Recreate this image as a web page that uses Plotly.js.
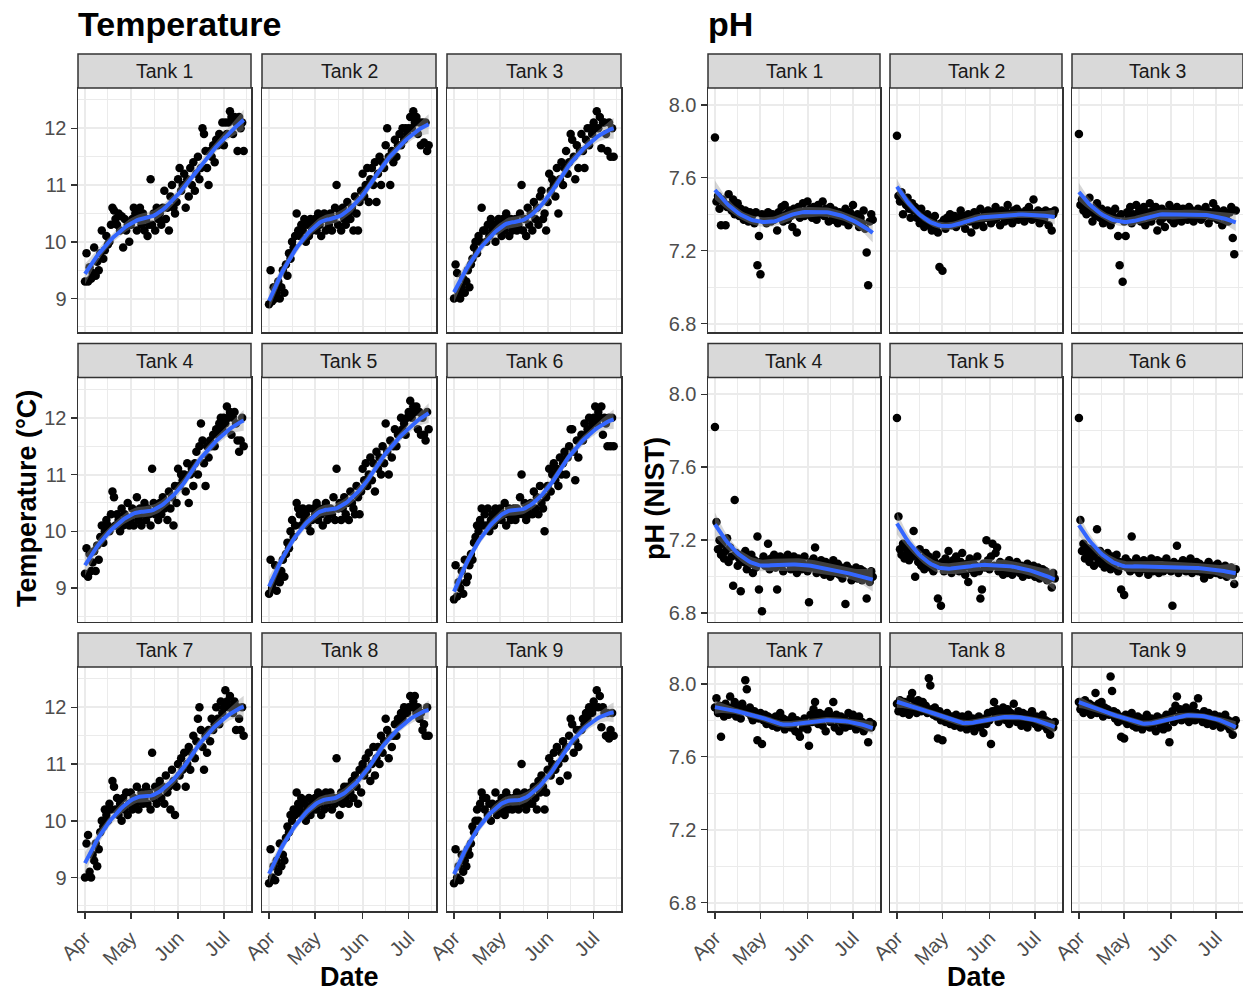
<!DOCTYPE html>
<html><head><meta charset="utf-8">
<script src="https://cdn.plot.ly/plotly-3.0.1.min.js"></script>
<style>html,body{margin:0;padding:0;background:#fff;}#chart{width:1243px;height:992px;}</style>
</head><body><div id="chart"></div>
<script>
// ---------------- DATA ----------------
const dates = [
'2021-04-01','2021-04-02','2021-04-03','2021-04-04','2021-04-05','2021-04-06','2021-04-07','2021-04-08','2021-04-09','2021-04-10',
'2021-04-11','2021-04-12','2021-04-13','2021-04-14','2021-04-15','2021-04-16','2021-04-17','2021-04-18','2021-04-19','2021-04-20',
'2021-04-21','2021-04-22','2021-04-23','2021-04-24','2021-04-25','2021-04-26','2021-04-27','2021-04-28','2021-04-29','2021-04-30',
'2021-05-01','2021-05-02','2021-05-03','2021-05-04','2021-05-05','2021-05-06','2021-05-07','2021-05-08','2021-05-09','2021-05-10',
'2021-05-11','2021-05-12','2021-05-13','2021-05-14','2021-05-15','2021-05-16','2021-05-17','2021-05-18','2021-05-19','2021-05-20',
'2021-05-21','2021-05-22','2021-05-23','2021-05-24','2021-05-25','2021-05-26','2021-05-27','2021-05-28','2021-05-29','2021-05-30','2021-05-31',
'2021-06-01','2021-06-02','2021-06-03','2021-06-04','2021-06-05','2021-06-06','2021-06-07','2021-06-08','2021-06-09','2021-06-10',
'2021-06-11','2021-06-12','2021-06-13','2021-06-14','2021-06-15','2021-06-16','2021-06-17','2021-06-18','2021-06-19','2021-06-20',
'2021-06-21','2021-06-22','2021-06-23','2021-06-24','2021-06-25','2021-06-26','2021-06-27','2021-06-28','2021-06-29','2021-06-30',
'2021-07-01','2021-07-02','2021-07-03','2021-07-04','2021-07-05','2021-07-06','2021-07-07','2021-07-08','2021-07-09','2021-07-10',
'2021-07-11','2021-07-12','2021-07-13','2021-07-14'];

const tankNames = ['Tank 1','Tank 2','Tank 3','Tank 4','Tank 5','Tank 6','Tank 7','Tank 8','Tank 9'];

const tempTank1 = [9.30,9.80,9.30,9.55,9.35,9.45,9.90,9.40,9.65,9.50, 9.80,10.20,9.70,9.85,10.10,9.95,10.00,10.30,10.60,10.55,
10.40,10.30,10.50,10.20,10.45,9.90,10.40,10.20,10.30,10.00, 10.30,10.40,10.60,10.50,10.20,10.40,10.60,10.30,10.50,10.20,
10.40,10.10,10.30,11.10,10.30,10.50,10.20,10.60,10.40,10.50, 10.30,10.60,10.90,10.40,10.60,10.20,10.80,11.00,10.60,10.50,10.70,
11.10,11.30,10.90,11.00,11.20,10.60,11.10,10.80,11.30,11.00, 11.40,10.90,11.20,11.50,11.10,11.30,12.00,11.90,11.60,11.30,
11.00,11.60,11.50,11.70,11.40,11.80,11.70,11.90,11.80,12.10, 11.70,12.10,11.90,12.10,12.30,12.20,11.90,12.20,12.10,11.60, 12.20,12.00,12.10,11.60];
const tempTank2 = [8.90,9.50,8.95,9.20,9.00,9.10,9.30,9.00,9.20,9.50, 9.10,9.60,9.40,9.80,9.70,10.00,9.90,10.10,10.50,10.20,
10.10,10.30,10.20,10.40,10.00,10.30,10.10,10.40,10.20,10.30, 10.40,10.20,10.50,10.30,10.10,10.40,10.50,10.20,10.40,10.30,
10.50,10.20,10.40,10.60,11.00,10.30,10.50,10.20,10.60,10.40, 10.30,10.70,10.50,10.40,10.60,10.20,10.80,10.50,10.20,10.70,10.90,
11.20,10.80,11.00,11.30,10.70,11.10,11.30,11.00,11.40,10.70, 11.20,11.50,11.00,11.40,11.30,11.70,12.00,11.50,11.00,11.60,
11.40,11.80,11.50,11.70,11.90,11.70,12.00,11.80,12.00,11.90, 12.00,12.20,12.00,12.30,12.10,12.20,11.90,12.10,11.70,12.10, 11.75,12.10,11.60,11.70];
const tempTank3 = [9.00,9.60,9.45,9.10,9.00,9.20,9.35,9.10,9.30,9.50, 9.20,9.60,9.70,9.90,10.00,9.80,10.10,10.00,10.60,10.20,
10.20,10.00,10.30,10.10,10.40,10.20,10.30,10.00,10.20,10.40, 10.30,10.10,10.40,10.20,10.50,10.30,10.10,10.40,10.20,10.30,
10.40,10.20,10.30,10.50,11.00,10.20,10.40,10.10,10.60,10.30, 10.50,10.20,10.70,10.40,10.60,10.30,10.80,10.90,10.40,10.50,10.20,
10.70,11.20,10.90,11.10,11.00,10.80,11.30,10.50,11.10,11.40, 11.00,11.30,11.60,11.20,11.40,11.90,11.80,11.50,11.10,11.70,
11.30,11.60,11.90,11.60,11.30,11.80,12.00,11.70,12.00,11.90, 12.10,12.00,12.30,12.00,12.20,11.65,12.10,12.10,11.90,11.60, 12.10,11.50,12.00,11.50];
const tempTank4 = [9.25,9.70,9.20,9.60,9.30,9.45,9.65,9.30,9.75,9.50, 9.90,10.10,9.80,10.00,10.20,10.10,10.00,10.30,10.70,10.60,
10.10,10.30,10.20,10.00,10.40,10.10,10.30,10.20,10.50,10.10, 10.20,10.40,10.10,10.30,10.60,10.20,10.40,10.10,10.30,10.50,
10.20,10.40,10.30,10.10,11.10,10.50,10.30,10.40,10.20,10.50, 10.30,10.60,10.40,10.50,10.20,10.70,10.40,10.60,10.10,10.80,10.50,
11.10,10.80,11.00,10.90,11.00,10.70,11.20,10.50,11.00,11.10, 10.80,11.20,11.40,11.00,11.50,11.90,11.60,11.20,10.80,11.50,
11.30,11.60,11.50,11.70,11.50,11.80,11.70,11.90,12.00,11.80, 12.00,11.90,12.20,12.00,12.10,11.70,12.00,12.10,11.90,11.60, 11.40,11.60,12.00,11.50];
const tempTank5 = [8.90,9.50,9.00,9.10,9.40,8.95,9.20,9.10,9.30,9.50, 9.20,9.60,9.80,9.70,10.00,10.20,9.90,10.10,10.50,10.40,
10.30,10.10,10.40,10.20,10.30,10.10,10.40,10.00,10.20,10.40, 10.30,10.50,10.20,10.40,10.30,10.10,10.40,10.50,10.20,10.30,
10.40,10.30,10.60,10.20,11.10,10.40,10.50,10.20,10.40,10.60, 10.30,10.50,10.20,10.70,10.50,10.40,10.30,10.80,10.60,10.30,10.70,
11.10,10.90,11.20,10.80,11.00,11.30,10.90,11.20,10.70,11.40, 11.10,11.30,11.00,11.50,11.20,11.90,11.40,11.00,11.60,11.30,
11.50,11.80,11.50,11.70,11.70,12.00,11.80,11.90,11.70,12.00, 12.10,12.30,12.00,12.20,12.10,12.20,11.80,12.10,11.70,12.00, 11.70,11.60,12.10,11.80];
const tempTank6 = [8.80,9.40,8.85,9.10,9.00,9.30,8.90,9.50,9.10,9.20, 9.40,9.60,9.50,9.80,9.90,10.10,10.00,10.20,10.40,10.10,
10.30,10.10,10.40,10.00,10.20,10.30,10.10,10.40,10.20,10.30, 10.40,10.20,10.30,10.50,10.10,10.30,10.40,10.20,10.30,10.40,
10.20,10.40,10.30,10.60,11.00,10.30,10.50,10.20,10.40,10.30, 10.50,10.30,10.70,10.40,10.60,10.30,10.80,10.50,10.40,10.00,10.60,
10.80,11.10,10.70,11.00,11.20,10.90,11.10,10.80,11.30,11.00, 11.20,11.40,11.00,11.30,11.50,11.80,11.80,11.40,10.90,11.60,
11.30,11.60,11.70,11.60,11.90,11.70,11.80,12.00,11.80,11.90, 12.00,12.20,11.90,12.10,12.00,12.20,11.70,12.00,11.90,11.50, 12.00,11.50,12.00,11.50];
const tempTank7 = [9.00,9.60,9.75,9.10,9.00,9.40,9.30,9.60,9.20,9.50, 9.80,10.00,9.90,10.20,10.10,10.00,10.30,10.20,10.70,10.60,
10.20,10.40,10.10,10.30,10.00,10.40,10.20,10.50,10.10,10.30, 10.50,10.20,10.40,10.30,10.60,10.20,10.40,10.50,10.30,10.40,
10.60,10.30,10.50,10.20,11.20,10.40,10.60,10.30,10.50,10.70, 10.40,10.60,10.30,10.80,10.50,10.60,10.20,10.90,10.70,10.10,10.60,
11.00,10.80,11.10,10.90,11.20,10.60,11.00,11.30,10.90,11.20, 11.50,11.10,11.40,11.80,12.00,11.60,11.30,10.90,11.50,11.20,
11.60,11.40,11.80,11.60,11.70,12.00,11.80,11.70,12.10,11.90, 12.00,12.30,12.10,12.00,12.20,12.00,11.90,12.10,11.60,12.00, 11.80,11.60,12.00,11.50];
const tempTank8 = [8.90,9.50,9.00,9.20,8.95,9.30,9.10,9.60,9.20,9.40, 9.30,9.70,9.90,9.80,10.10,10.00,10.20,10.10,10.50,10.30,
10.20,10.40,10.10,10.30,10.00,10.20,10.40,10.10,10.30,10.20, 10.40,10.20,10.50,10.30,10.10,10.40,10.20,10.50,10.30,10.40,
10.50,10.20,10.40,10.30,11.10,10.40,10.10,10.50,10.30,10.60, 10.40,10.60,10.30,10.50,10.70,10.40,10.80,10.60,10.30,10.90,10.50,
11.00,10.80,11.10,10.90,11.20,10.70,11.00,11.30,10.80,11.10, 11.30,11.00,11.50,11.20,11.40,11.80,11.60,11.10,11.50,11.30,
11.50,11.70,11.50,11.80,11.70,11.90,11.80,12.00,11.90,11.90, 12.00,12.20,12.00,12.10,12.20,11.90,12.00,11.80,11.90,11.60, 11.70,11.50,12.00,11.50];
const tempTank9 = [8.90,9.50,9.00,9.20,8.95,9.40,9.10,9.30,9.20,9.50, 9.40,9.60,9.90,9.80,10.00,10.20,10.00,10.30,10.50,10.40,
10.20,10.40,10.10,10.30,10.00,10.30,10.20,10.50,10.10,10.30, 10.20,10.40,10.30,10.10,10.50,10.20,10.40,10.30,10.20,10.40,
10.30,10.50,10.20,10.40,11.00,10.30,10.50,10.20,10.40,10.30, 10.50,10.30,10.60,10.40,10.20,10.70,10.50,10.80,10.60,10.20,10.50,
10.90,11.10,10.80,11.00,11.20,10.90,11.30,11.00,10.70,11.20, 11.40,11.10,11.30,10.80,11.50,11.80,11.70,11.20,11.40,11.60,
11.30,11.60,11.60,11.80,11.70,11.90,11.80,12.00,11.90,11.90, 12.10,12.00,12.30,12.00,12.20,11.65,12.00,11.90,11.50,11.90, 11.45,11.60,11.90,11.50];

const phTank1 = [7.82,7.47,7.50,7.43,7.34,7.48,7.46,7.34,7.44,7.51, 7.45,7.42,7.48,7.40,7.44,7.46,7.39,7.43,7.40,7.37,
7.42,7.39,7.36,7.41,7.38,7.40,7.35,7.41,7.12,7.28, 7.07,7.40,7.37,7.39,7.35,7.41,7.38,7.36,7.40,7.37,
7.39,7.31,7.41,7.38,7.44,7.36,7.45,7.40,7.37,7.42, 7.39,7.33,7.43,7.40,7.30,7.44,7.38,7.41,7.46,7.39,7.42,
7.47,7.40,7.43,7.38,7.44,7.41,7.37,7.45,7.40,7.42, 7.47,7.39,7.43,7.41,7.36,7.44,7.40,7.37,7.42,7.39,
7.35,7.41,7.38,7.40,7.36,7.43,7.39,7.34,7.41,7.37, 7.45,7.38,7.36,7.40,7.33,7.38,7.35,7.42,7.32,7.19, 7.01,7.36,7.40,7.37];
const phTank2 = [7.83,7.50,7.47,7.52,7.40,7.48,7.45,7.49,7.43,7.38, 7.46,7.42,7.44,7.38,7.41,7.35,7.43,7.39,7.33,7.37,
7.40,7.34,7.38,7.31,7.36,7.39,7.33,7.30,7.11,7.35, 7.09,7.37,7.32,7.38,7.35,7.40,7.34,7.37,7.39,7.33,
7.36,7.38,7.42,7.35,7.39,7.32,7.37,7.40,7.36,7.30, 7.38,7.41,7.34,7.39,7.36,7.43,7.37,7.33,7.40,7.38,7.42,
7.39,7.35,7.41,7.37,7.44,7.38,7.40,7.34,7.42,7.39, 7.36,7.41,7.45,7.38,7.40,7.35,7.42,7.39,7.43,7.37,
7.41,7.38,7.40,7.36,7.42,7.39,7.44,7.41,7.37,7.48, 7.40,7.38,7.42,7.35,7.41,7.39,7.37,7.42,7.40,7.34, 7.41,7.31,7.40,7.42];
const phTank3 = [7.84,7.45,7.48,7.42,7.47,7.40,7.44,7.49,7.41,7.36, 7.43,7.39,7.46,7.41,7.38,7.43,7.35,7.40,7.37,7.42,
7.39,7.34,7.41,7.37,7.43,7.38,7.28,7.12,7.40,7.03, 7.36,7.28,7.41,7.38,7.44,7.35,7.40,7.37,7.45,7.39,
7.42,7.36,7.40,7.44,7.34,7.41,7.38,7.46,7.36,7.42, 7.39,7.44,7.31,7.40,7.36,7.43,7.38,7.33,7.41,7.39,7.45,
7.37,7.42,7.35,7.40,7.44,7.38,7.41,7.36,7.43,7.39, 7.41,7.37,7.44,7.39,7.42,7.36,7.40,7.38,7.43,7.41,
7.37,7.42,7.39,7.44,7.40,7.35,7.41,7.38,7.46,7.40, 7.43,7.37,7.41,7.39,7.34,7.42,7.38,7.40,7.36,7.41, 7.44,7.27,7.18,7.42];
const phTank4 = [7.82,7.30,7.15,7.20,7.12,7.18,7.10,7.14,7.21,7.08, 7.16,7.11,6.95,7.42,7.13,7.06,7.10,6.92,7.12,7.08,
7.14,7.04,7.10,7.07,7.12,7.02,7.09,7.05,7.22,6.93, 7.08,6.81,7.11,7.06,7.09,7.18,7.04,7.10,7.07,7.12,
7.05,6.93,7.09,7.11,7.06,7.03,7.10,7.08,7.12,7.07, 7.04,7.09,7.11,7.06,7.02,7.10,7.08,7.04,7.07,7.11,7.05,
7.03,6.86,7.08,7.05,7.10,7.16,7.02,7.07,7.04,7.09, 7.06,7.01,7.08,7.03,7.06,7.00,7.05,7.09,7.02,7.04,
7.07,7.01,7.05,6.99,7.03,6.85,7.06,7.02,7.04,6.98, 7.03,7.01,7.05,6.99,7.02,7.04,6.98,7.03,7.00,6.88, 7.01,6.97,7.03,7.00];
const phTank5 = [7.87,7.33,7.15,7.12,7.18,7.10,7.16,7.13,7.09,7.14, 7.11,7.25,7.00,7.12,7.08,7.15,7.06,7.10,7.04,7.13,
7.07,7.11,7.05,7.09,7.03,7.08,7.12,6.88,7.06,6.84, 7.08,7.03,7.10,7.05,7.14,7.07,7.02,7.09,7.04,7.11,
7.06,7.03,7.08,7.13,7.05,7.01,7.07,6.97,7.10,7.04, 7.08,7.02,7.06,7.11,7.03,6.88,6.93,7.07,7.05,7.20,7.09,
7.04,7.11,7.18,7.06,7.13,7.16,7.03,7.08,7.05,7.01, 7.07,7.04,7.02,7.09,7.05,7.01,7.06,7.03,7.08,7.04,
7.02,7.06,7.00,7.05,7.03,7.07,7.01,7.04,7.02,7.06, 7.00,7.03,7.05,6.99,7.02,7.04,7.00,7.03,6.98,7.01, 6.99,6.94,7.02,6.99];
const phTank6 = [7.87,7.31,7.14,7.18,7.10,7.16,7.12,7.08,7.15,7.11, 7.06,7.13,7.26,7.09,7.14,7.07,7.12,7.05,7.10,7.13,
7.08,7.04,7.11,7.06,7.09,7.12,7.03,7.08,6.93,7.06, 6.90,7.10,7.05,7.08,7.03,7.22,7.07,7.04,7.10,7.06,
7.02,7.08,7.05,7.09,7.04,7.07,7.01,7.06,7.10,7.03, 7.07,7.04,7.09,7.02,7.06,7.08,7.03,7.05,7.10,7.04,7.07,
7.03,6.84,7.08,7.05,7.17,7.02,7.07,7.04,7.09,7.06, 7.03,7.08,7.05,7.10,7.02,7.06,7.04,7.08,7.03,7.07,
7.05,7.02,6.99,7.06,7.03,7.08,7.01,7.05,7.03,7.06, 7.02,7.07,7.04,7.01,7.05,7.03,7.06,7.00,7.04,7.02, 7.05,7.01,6.96,7.04];
const phTank7 = [7.87,7.92,7.84,7.88,7.71,7.86,7.82,7.89,7.85,7.83, 7.93,7.87,7.84,7.90,7.82,7.88,7.85,7.81,7.89,7.86,
8.02,7.97,7.84,7.87,7.82,7.80,7.85,7.83,7.69,7.81, 7.84,7.67,7.80,7.83,7.78,7.82,7.79,7.81,7.77,7.80,
7.82,7.76,7.79,7.84,7.78,7.81,7.75,7.80,7.77,7.79, 7.76,7.82,7.78,7.74,7.80,7.73,7.71,7.79,7.76,7.81,7.78,
7.75,7.66,7.83,7.79,7.86,7.90,7.82,7.78,7.84,7.80, 7.77,7.83,7.74,7.81,7.85,7.79,7.82,7.90,7.76,7.83,
7.80,7.74,7.82,7.78,7.81,7.76,7.79,7.84,7.77,7.80, 7.83,7.78,7.75,7.80,7.82,7.77,7.79,7.74,7.78,7.76, 7.68,7.79,7.76,7.78];
const phTank8 = [7.89,7.85,7.91,7.87,7.84,7.90,7.86,7.88,7.83,7.92, 7.95,7.86,7.89,7.84,7.91,7.87,7.85,7.90,7.86,7.88,
7.84,8.03,7.99,7.86,7.83,7.87,7.82,7.70,7.85,7.80, 7.69,7.83,7.79,7.84,7.81,7.78,7.82,7.80,7.77,7.83,
7.79,7.81,7.76,7.82,7.78,7.80,7.75,7.83,7.79,7.77, 7.81,7.74,7.80,7.78,7.82,7.76,7.79,7.73,7.81,7.78,7.84,
7.80,7.67,7.85,7.90,7.82,7.86,7.79,7.84,7.81,7.87, 7.83,7.80,7.86,7.78,7.84,7.81,7.89,7.82,7.79,7.85,
7.81,7.77,7.84,7.80,7.83,7.76,7.82,7.79,7.85,7.80, 7.78,7.82,7.76,7.81,7.79,7.83,7.77,7.80,7.75,7.79, 7.72,7.78,7.76,7.79];
const phTank9 = [7.90,7.86,7.88,7.84,7.91,7.87,7.85,7.89,7.83,7.88, 7.86,7.95,7.84,7.89,7.85,7.90,7.82,7.87,7.84,7.86,
7.83,8.04,7.96,7.85,7.81,7.84,7.79,7.82,7.71,7.80, 7.70,7.83,7.78,7.81,7.79,7.84,7.77,7.80,7.76,7.82,
7.78,7.81,7.75,7.80,7.77,7.83,7.79,7.76,7.81,7.78, 7.80,7.74,7.82,7.79,7.77,7.81,7.75,7.79,7.83,7.76,7.68,
7.81,7.85,7.79,7.88,7.93,7.82,7.86,7.80,7.84,7.81, 7.87,7.83,7.79,7.85,7.82,7.88,7.80,7.84,7.92,7.81,
7.83,7.79,7.85,7.81,7.78,7.84,7.80,7.82,7.77,7.83, 7.80,7.78,7.82,7.76,7.81,7.79,7.83,7.77,7.80,7.75, 7.79,7.72,7.77,7.80];

const tempTickVals = [9, 10, 11, 12];
const tempTickText = ['9', '10', '11', '12'];
const phTickVals = [6.8, 7.2, 7.6, 8.0];
const phTickText = ['6.8', '7.2', '7.6', '8.0'];
const monthTickVals = ['2021-04-01', '2021-05-01', '2021-06-01', '2021-07-01'];
const monthTickText = ['Apr', 'May', 'Jun', 'Jul'];

const tempSeries = [tempTank1,tempTank2,tempTank3,tempTank4,tempTank5,tempTank6,tempTank7,tempTank8,tempTank9];
const phSeries = [phTank1,phTank2,phTank3,phTank4,phTank5,phTank6,phTank7,phTank8,phTank9];

// ---------------- LOESS (as geom_smooth: degree 2, span 0.75) ----------------
function solve3(A, b) {
  const M = A.map((row, i) => [...row, b[i]]);
  for (let c = 0; c < 3; c++) {
    let p = c;
    for (let r = c + 1; r < 3; r++) if (Math.abs(M[r][c]) > Math.abs(M[p][c])) p = r;
    [M[c], M[p]] = [M[p], M[c]];
    for (let r = 0; r < 3; r++) {
      if (r === c) continue;
      const f = M[r][c] / M[c][c];
      for (let k = c; k < 4; k++) M[r][k] -= f * M[c][k];
    }
  }
  return [M[0][3] / M[0][0], M[1][3] / M[1][1], M[2][3] / M[2][2]];
}
function loessSmooth(xs, ys, span, nGrid) {
  const n = xs.length, q = Math.floor(span * n);
  function lvec(x0) {
    const d = xs.map(x => Math.abs(x - x0));
    const h = d.slice().sort((a, b) => a - b)[q - 1] || 1;
    const w = d.map(v => v < h ? Math.pow(1 - Math.pow(v / h, 3), 3) : 0);
    const us = xs.map(x => (x - x0) / h);
    const S = [[0,0,0],[0,0,0],[0,0,0]];
    for (let i = 0; i < n; i++) {
      if (!w[i]) continue;
      const v = [1, us[i], us[i] * us[i]];
      for (let a = 0; a < 3; a++) for (let b = 0; b < 3; b++) S[a][b] += w[i] * v[a] * v[b];
    }
    const r = solve3(S, [1, 0, 0]);
    return us.map((u, i) => w[i] * (r[0] + r[1] * u + r[2] * u * u));
  }
  const L = xs.map(x => lvec(x));
  let rss = 0, d1 = 0;
  L.forEach((l, i) => {
    const f = l.reduce((s, li, j) => s + li * ys[j], 0);
    rss += (ys[i] - f) ** 2;
    l.forEach((lij, j) => { const v = (i === j ? 1 : 0) - lij; d1 += v * v; });
  });
  const s = Math.sqrt(rss / d1);
  const xmin = Math.min(...xs), xmax = Math.max(...xs);
  const gx = [], fit = [], lo = [], hi = [];
  for (let k = 0; k < nGrid; k++) {
    const x0 = xmin + (xmax - xmin) * k / (nGrid - 1);
    const l = lvec(x0);
    const f = l.reduce((a, li, j) => a + li * ys[j], 0);
    const se = s * Math.sqrt(l.reduce((a, li) => a + li * li, 0));
    gx.push(x0); fit.push(f); lo.push(f - 1.985 * se); hi.push(f + 1.985 * se);
  }
  return { gx, fit, lo, hi };
}

// ---------------- LAYOUT ----------------
const W = 1243, H = 992;
const FONT = 'Liberation Sans, Arial, sans-serif';
const TICKSIZE = 20;
const groups = [
  { series: tempSeries, cols: [[78, 251], [262, 436], [447, 621]], range: [8.41, 12.71],
    tv: tempTickVals, tt: tempTickText, minor: [8.5, 9.5, 10.5, 11.5, 12.5] },
  { series: phSeries, cols: [[708, 880], [890, 1062], [1072, 1243]], range: [6.754, 8.092],
    tv: phTickVals, tt: phTickText, minor: [7.0, 7.4, 7.8] }
];
const rowsPx = [[88, 332], [377.5, 621.5], [667, 911]];
const stripPx = [[54, 88], [343.5, 377.5], [633, 667]];
const xRange = ['2021-03-27 10:00', '2021-07-18 19:00'];
const xMinor = ['2021-04-16', '2021-05-16 12:00', '2021-06-16', '2021-07-16'];

const dayMs = 86400000;
const xNum = dates.map(d => Date.parse(d + 'T00:00:00Z') / dayMs);
function toDateStr(dn) { return new Date(dn * dayMs).toISOString().slice(0, 19).replace('T', ' '); }

const traces = [], shapes = [], annotations = [];
const layout = {
  width: W, height: H, margin: { l: 0, r: 0, t: 0, b: 0 },
  paper_bgcolor: '#ffffff', plot_bgcolor: '#ffffff',
  showlegend: false, hovermode: false,
  font: { family: FONT, size: TICKSIZE, color: '#4D4D4D' }
};

groups.forEach((g, gi) => {
  for (let r = 0; r < 3; r++) for (let c = 0; c < 3; c++) {
    const t = r * 3 + c;
    const k = gi * 9 + t + 1;
    const xk = k === 1 ? 'xaxis' : 'xaxis' + k, yk = k === 1 ? 'yaxis' : 'yaxis' + k;
    const xr = k === 1 ? 'x' : 'x' + k, yr = k === 1 ? 'y' : 'y' + k;
    const [px0, px1] = g.cols[c];
    const [py0, py1] = rowsPx[r];
    layout[xk] = {
      domain: [px0 / W, px1 / W], anchor: yr, type: 'date', range: xRange,
      tickmode: 'array', tickvals: monthTickVals, ticktext: monthTickText,
      showticklabels: r === 2, ticks: r === 2 ? 'outside' : '', ticklen: 6, tickwidth: 1.5, tickcolor: '#333333',
      tickangle: -45, tickfont: { family: FONT, size: TICKSIZE, color: '#4D4D4D' },
      showgrid: true, gridcolor: '#EBEBEB', gridwidth: 2,
      minor: { tickvals: xMinor, showgrid: true, gridcolor: '#EBEBEB', gridwidth: 1, ticks: '' },
      showline: true, mirror: true, linecolor: '#333333', linewidth: 1.5, zeroline: false, fixedrange: true
    };
    layout[yk] = {
      domain: [1 - py1 / H, 1 - py0 / H], anchor: xr, range: g.range,
      tickmode: 'array', tickvals: g.tv, ticktext: g.tt,
      showticklabels: c === 0, ticks: c === 0 ? 'outside' : '', ticklen: 6, tickwidth: 1.5, tickcolor: '#333333',
      tickfont: { family: FONT, size: TICKSIZE, color: '#4D4D4D' },
      showgrid: true, gridcolor: '#EBEBEB', gridwidth: 2,
      minor: { tickvals: g.minor, showgrid: true, gridcolor: '#EBEBEB', gridwidth: 1, ticks: '' },
      showline: true, mirror: true, linecolor: '#333333', linewidth: 1.5, zeroline: false, fixedrange: true
    };
    const ys = g.series[t];
    traces.push({ type: 'scatter', mode: 'markers', x: dates, y: ys, xaxis: xr, yaxis: yr,
      marker: { color: '#000000', size: 8.5, line: { width: 0 } } });
    const sm = loessSmooth(xNum, ys, 0.75, 80);
    const gxs = sm.gx.map(toDateStr);
    traces.push({ type: 'scatter', mode: 'lines', x: gxs.concat(gxs.slice().reverse()),
      y: sm.hi.concat(sm.lo.slice().reverse()), xaxis: xr, yaxis: yr,
      fill: 'toself', fillcolor: 'rgba(153,153,153,0.4)', line: { width: 0 } });
    traces.push({ type: 'scatter', mode: 'lines', x: gxs, y: sm.fit, xaxis: xr, yaxis: yr,
      line: { color: '#3366FF', width: 4 } });
    // strip
    const [sy0, sy1] = stripPx[r];
    shapes.push({ type: 'rect', xref: 'paper', yref: 'paper', x0: px0 / W, x1: px1 / W,
      y0: 1 - sy1 / H, y1: 1 - sy0 / H, fillcolor: '#D9D9D9', line: { color: '#333333', width: 1.5 } });
    annotations.push({ xref: 'paper', yref: 'paper', x: (px0 + px1) / 2 / W, y: 1 - (sy0 + sy1) / 2 / H,
      text: tankNames[t], showarrow: false, xanchor: 'center', yanchor: 'middle',
      font: { family: FONT, size: 19.5, color: '#1A1A1A' } });
  }
});

annotations.push({ xref: 'paper', yref: 'paper', x: 76 / W, y: 1 - 24 / H, text: '<b>Temperature</b>',
  showarrow: false, xanchor: 'left', yanchor: 'middle', font: { family: FONT, size: 34, color: '#000000' } });
annotations.push({ xref: 'paper', yref: 'paper', x: 706 / W, y: 1 - 24 / H, text: '<b>pH</b>',
  showarrow: false, xanchor: 'left', yanchor: 'middle', font: { family: FONT, size: 34, color: '#000000' } });
annotations.push({ xref: 'paper', yref: 'paper', x: 27 / W, y: 1 - 499 / H, text: '<b>Temperature (°C)</b>',
  textangle: -90, showarrow: false, xanchor: 'center', yanchor: 'middle', font: { family: FONT, size: 27, color: '#000000' } });
annotations.push({ xref: 'paper', yref: 'paper', x: 655 / W, y: 1 - 499 / H, text: '<b>pH (NIST)</b>',
  textangle: -90, showarrow: false, xanchor: 'center', yanchor: 'middle', font: { family: FONT, size: 27, color: '#000000' } });
annotations.push({ xref: 'paper', yref: 'paper', x: 349 / W, y: 1 - 977 / H, text: '<b>Date</b>',
  showarrow: false, xanchor: 'center', yanchor: 'middle', font: { family: FONT, size: 27, color: '#000000' } });
annotations.push({ xref: 'paper', yref: 'paper', x: 976 / W, y: 1 - 977 / H, text: '<b>Date</b>',
  showarrow: false, xanchor: 'center', yanchor: 'middle', font: { family: FONT, size: 27, color: '#000000' } });

layout.shapes = shapes;
layout.annotations = annotations;

Plotly.newPlot('chart', traces, layout, { staticPlot: true, displayModeBar: false });
</script>
</body></html>
